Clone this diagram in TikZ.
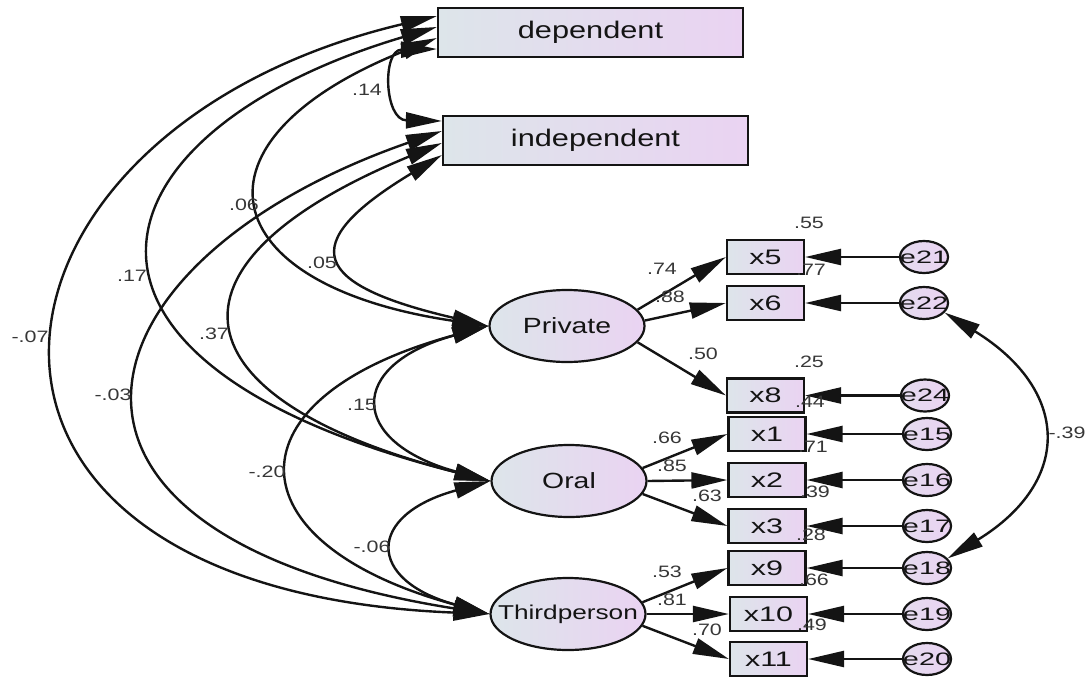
\documentclass[tikz,border=0pt]{standalone}
\usepackage{fontspec}
\setmainfont{Liberation Sans}
\usetikzlibrary{shapes.geometric,arrows.meta}
\definecolor{cL}{RGB}{221,229,234}
\definecolor{cR}{RGB}{234,211,242}
\definecolor{ink}{RGB}{20,20,20}
\newcommand{\sx}[2][1.3]{\scalebox{#1}[1]{#2}}
\begin{document}
\begin{tikzpicture}[x=1pt,y=-1pt,line width=2.4pt,
  obs/.style={draw=ink, line width=2.2pt, left color=cL, right color=cR, minimum width=77pt, minimum height=34pt, inner sep=0pt, text=ink, font=\fontsize{21}{21}\selectfont},
  big/.style={obs, minimum width=305pt, minimum height=49pt, font=\fontsize{24}{24}\selectfont},
  lat/.style={ellipse, draw=ink, line width=2.2pt, left color=cL, right color=cR, minimum width=155pt, minimum height=72pt, inner sep=0pt, text=ink, font=\fontsize{22}{22}\selectfont},
  err/.style={ellipse, draw=ink, line width=2.2pt, left color=cL!45!cR, right color=cR, minimum width=48pt, minimum height=32pt, inner sep=0pt, text=ink, font=\fontsize{18}{18}\selectfont},
  num/.style={inner sep=0pt, text=ink!85, font=\fontsize{16.5}{16.5}\selectfont},
  arr/.style={draw=ink, -{Triangle[length=36pt,width=16pt]}},
  cov/.style={draw=ink, {Triangle[length=36pt,width=16pt]}-{Triangle[length=36pt,width=16pt]}},
]
\useasboundingbox (0,0) rectangle (1089,680);

% observed top boxes
\node[big] (dep) at (590.5,32.5) {\sx[1.28]{dependent}};
\node[big] (ind) at (595.5,140.5) {\sx[1.28]{independent}};

% latents
\node[lat] (P) at (567,326) {\makebox[0pt]{\sx[1.29]{Private}}};
\node[lat] (O) at (569,481) {\makebox[0pt]{\sx[1.29]{Oral}}};
\node[lat, font=\fontsize{20}{20}\selectfont] (T) at (568,614) {\makebox[0pt]{\sx[1.31]{Thirdperson}}};

% indicators
\node[obs] (x5) at (765.5,257) {\sx[1.45]{x5}};
\node[obs] (x6) at (765.5,303) {\sx[1.45]{x6}};
\node[obs] (x8) at (765.5,395.5) {\sx[1.45]{x8}};
\node[obs] (x1) at (767,434) {\sx[1.45]{x1}};
\node[obs] (x2) at (767,480) {\sx[1.45]{x2}};
\node[obs] (x3) at (767,526) {\sx[1.45]{x3}};
\node[obs] (x9) at (767,568) {\sx[1.45]{x9}};
\node[obs] (x10) at (768.5,614) {\sx[1.45]{x10}};
\node[obs] (x11) at (768.5,659) {\sx[1.45]{x11}};

% errors
\node[err] (e21) at (924,257) {\makebox[0pt]{\sx[1.6]{e21}}};
\node[err] (e22) at (924,303) {\makebox[0pt]{\sx[1.6]{e22}}};
\node[err] (e24) at (925,395.5) {\makebox[0pt]{\sx[1.6]{e24}}};
\node[err] (e15) at (927,434) {\makebox[0pt]{\sx[1.6]{e15}}};
\node[err] (e16) at (927,480) {\makebox[0pt]{\sx[1.6]{e16}}};
\node[err] (e17) at (927,526) {\makebox[0pt]{\sx[1.6]{e17}}};
\node[err] (e18) at (927,568) {\makebox[0pt]{\sx[1.6]{e18}}};
\node[err] (e19) at (927,614) {\makebox[0pt]{\sx[1.6]{e19}}};
\node[err] (e20) at (927,659) {\makebox[0pt]{\sx[1.6]{e20}}};

% error arrows
\foreach \e/\x in {e21/x5,e22/x6,e24/x8,e15/x1,e16/x2,e17/x3,e18/x9,e19/x10,e20/x11}
  \draw[arr] (\e) -- (\x);

% loadings
\draw[arr] (P.13) -- (x5.west);
\draw[arr] (P.4) -- (x6.west);
\draw[arr] (P.-13) -- (x8.west);
\draw[arr] (O.10) -- (x1.west);
\draw[arr] (O.0) -- (x2.west);
\draw[arr] (O.-10) -- (x3.west);
\draw[arr] (T.9) -- (x9.west);
\draw[arr] (T.0) -- (x10.west);
\draw[arr] (T.-9) -- (x11.west);

% covariances
\draw[cov] ([yshift=-16.5pt]dep.west) .. controls (382,50) and (384,120) .. ([yshift=19.5pt]ind.west);
\draw[cov] ([yshift=16.5pt]dep.west) .. controls (-45,130) and (-110,590) .. (T.west);
\draw[cov] ([yshift=5.5pt]dep.west) .. controls (90,130) and (13,360) .. (O.west);
\draw[cov] ([yshift=-5.5pt]dep.west) .. controls (181,140) and (210,285) .. (P.west);
\draw[cov] ([yshift=9.5pt]ind.west) .. controls (71,260) and (-9,535) .. (T.west);
\draw[cov] ([yshift=-2.5pt]ind.west) .. controls (146,265) and (175,400) .. (O.west);
\draw[cov] ([yshift=-14.5pt]ind.west) .. controls (293,245) and (313,285) .. (P.west);
\draw[cov] (P.west) .. controls (346,365) and (348,442) .. (O.west);
\draw[cov] (O.west) .. controls (366,515) and (366,580) .. (T.west);
\draw[cov] (P.west) .. controls (226,397) and (228,543) .. (T.west);
\draw[cov] (e22.-25) .. controls (1070,390) and (1073,481) .. (e18.25);

% covariance labels
\node[num] (c1) at (367,90) {\sx{.14}};
\node[num] (c2) at (244,205) {\sx{.06}};
\node[num] (c3) at (322,263) {\sx{.05}};
\node[num] (c4) at (132,276) {\sx{.17}};
\node[num] (c5) at (214,334) {\sx{.37}};
\node[num] (c6) at (30,337) {\sx{-.07}};
\node[num] (c7) at (113,395) {\sx{-.03}};
\node[num] (c8) at (267,472) {\sx{-.20}};
\node[num] (c9) at (362,405) {\sx{.15}};
\node[num] (c10) at (372,547) {\sx{-.06}};
\node[num] (c11) at (1067,433) {\sx{-.39}};

% loading labels
\node[num] (l1) at (662,269) {\sx{.74}};
\node[num] (l2) at (670,297) {\sx{.88}};
\node[num] (l3) at (703,354) {\sx{.50}};
\node[num] (l4) at (667,438) {\sx{.66}};
\node[num] (l5) at (672,466) {\sx{.85}};
\node[num] (l6) at (707,496) {\sx{.63}};
\node[num] (l7) at (667,572) {\sx{.53}};
\node[num] (l8) at (672,600) {\sx{.81}};
\node[num] (l9) at (707,630) {\sx{.70}};

% squared multiple correlations
\node[num] (r1) at (809,223) {\sx{.55}};
\node[num] (r2) at (811,270) {\sx{.77}};
\node[num] (r3) at (809,362) {\sx{.25}};
\node[num] (r4) at (810,402) {\sx{.44}};
\node[num] (r5) at (813,447) {\sx{.71}};
\node[num] (r6) at (815,492) {\sx{.39}};
\node[num] (r7) at (811,535) {\sx{.28}};
\node[num] (r8) at (814,580) {\sx{.66}};
\node[num] (r9) at (812,625) {\sx{.49}};
\end{tikzpicture}
\end{document}
